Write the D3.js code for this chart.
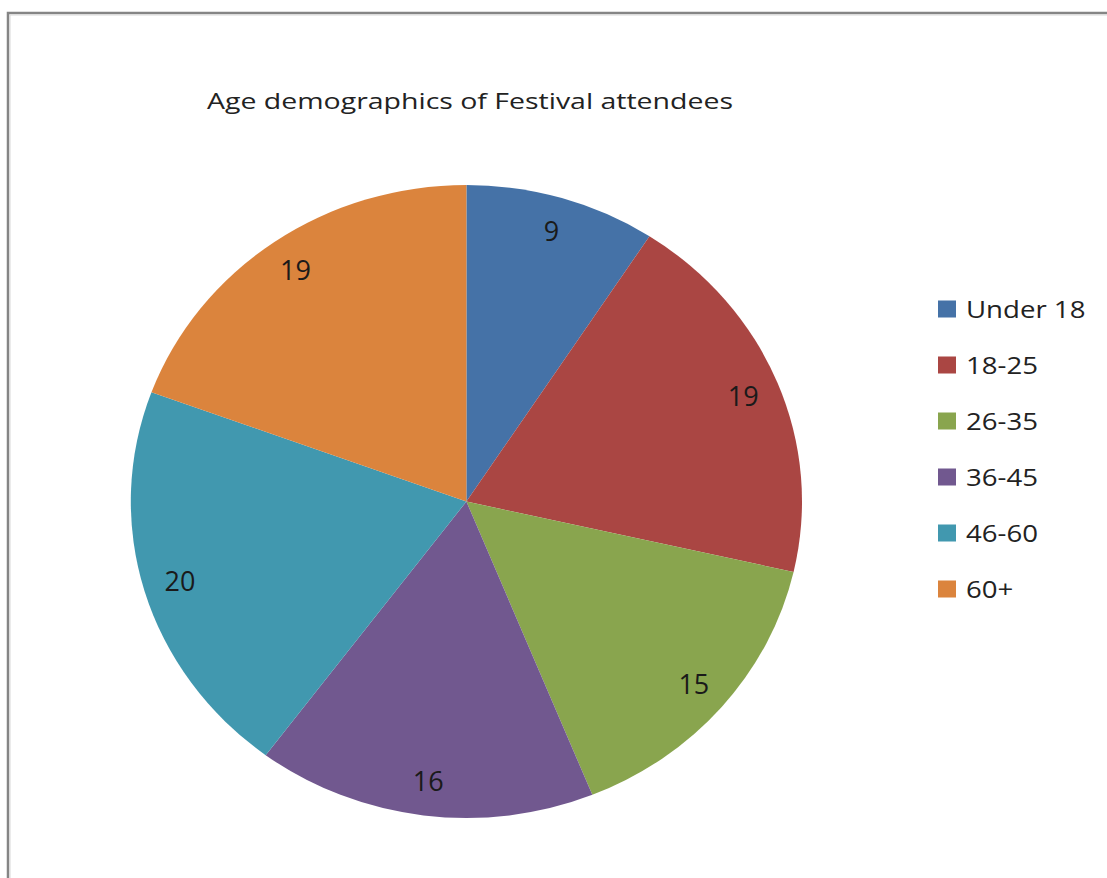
<!DOCTYPE html>
<html><head><meta charset="utf-8">
<script src="https://cdn.jsdelivr.net/npm/d3@7"></script>
<style>html,body{margin:0;padding:0;background:#fff;}svg{display:block;}</style>
</head><body>
<script>
const title = "Age demographics of Festival attendees";
const categories = ["Under 18", "18-25", "26-35", "36-45", "46-60", "60+"];
const values = [9, 19, 15, 16, 20, 19];
const colors = ["#4572A7", "#AA4643", "#89A54E", "#71588F", "#4198AF", "#DB843D"];

const W = 1107, H = 878;
const svg = d3.select("body").append("svg").attr("width", W).attr("height", H);
svg.append("rect").attr("width", W).attr("height", H).attr("fill", "#fff");

// frame (only top and left edges visible)
svg.append("path").attr("d", `M8,${H+5} L8,13 L${W+5},13`).attr("fill", "none")
  .attr("stroke", "#858585").attr("stroke-width", 2.5);
svg.append("path").attr("d", `M10,${H+5} L10,15 L${W+5},15`).attr("fill", "none")
  .attr("stroke", "#d8d8d8").attr("stroke-width", 1);

const font = "'Open Sans', 'DejaVu Sans', sans-serif";

svg.append("text").attr("x", 470).attr("y", 109).attr("text-anchor", "middle")
  .attr("font-family", font).attr("font-size", 21).attr("fill", "#222")
  .attr("textLength", 526).attr("lengthAdjust", "spacingAndGlyphs")
  .text(title);

const cx = 466.4, cy = 501.5, ry = 316.5, rx = 335.6;
const sx = rx / ry;
const color = d3.scaleOrdinal().domain(categories).range(colors);
const pie = d3.pie().sort(null).value(d => d.v);
const data = pie(categories.map((c, i) => ({c, v: values[i]})));
const arc = d3.arc().innerRadius(0).outerRadius(ry);
const labelArc = d3.arc().innerRadius(ry * 0.89).outerRadius(ry * 0.89);

const g = svg.append("g").attr("transform", `translate(${cx},${cy}) scale(${sx},1)`);
g.selectAll("path").data(data).join("path")
  .attr("d", arc).attr("fill", d => color(d.data.c));

const lg = svg.append("g").attr("transform", `translate(${cx},${cy})`);
lg.selectAll("text").data(data).join("text")
  .attr("x", d => labelArc.centroid(d)[0] * sx)
  .attr("y", d => labelArc.centroid(d)[1])
  .attr("dy", "0.36em").attr("text-anchor", "middle")
  .attr("font-family", font).attr("font-size", 27).attr("fill", "#1a1a1a")
  .text(d => d.data.v);

// legend
const leg = svg.append("g");
const rowY = d3.scalePoint().domain(categories).range([309, 589]);
categories.forEach(c => {
  const y = rowY(c);
  leg.append("rect").attr("x", 938).attr("y", y - 8.5).attr("width", 18).attr("height", 17)
    .attr("fill", color(c));
  leg.append("text").attr("transform", `translate(966,${y}) scale(1.15,1)`)
    .attr("dy", "0.36em")
    .attr("font-family", font).attr("font-size", 24).attr("fill", "#222")
    .text(c);
});
</script>
</body></html>
